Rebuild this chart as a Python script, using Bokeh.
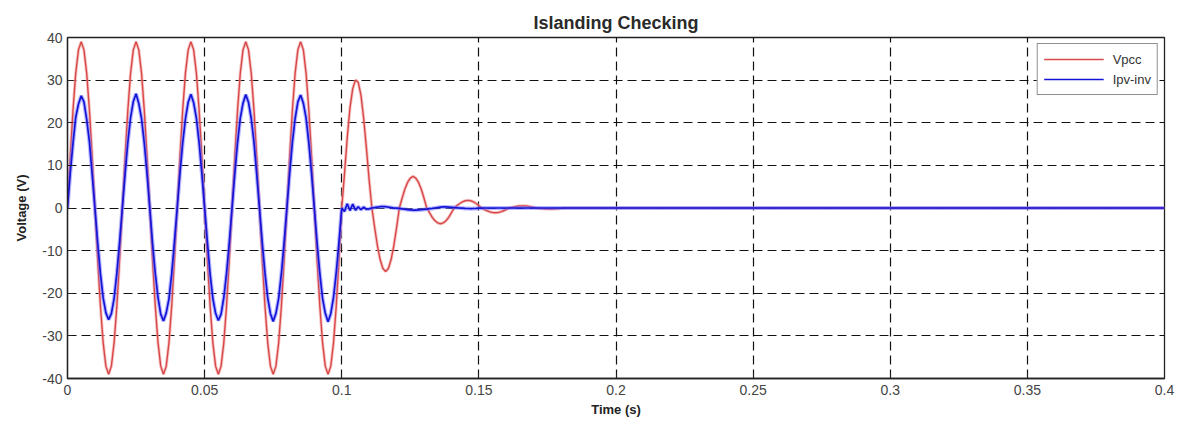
from bokeh.plotting import figure
from bokeh.models import FixedTicker, Legend, LegendItem, Range1d
from bokeh.embed import file_html
from bokeh.resources import INLINE

# ---------------- data ----------------
# time axis in milliseconds: 1 ms samples up to 181 ms, then flat to 400 ms
t_ms = list(range(0, 182)) + [400]

vpcc = [
    # 0-19 ms
    0, 12.1, 22.9, 31.6, 37.1, 39, 37.1, 31.6, 22.9, 12.1,
    0, -12.1, -22.9, -31.6, -37.1, -39, -37.1, -31.6, -22.9, -12.1,
    # 20-39 ms
    0, 12.1, 22.9, 31.6, 37.1, 39, 37.1, 31.6, 22.9, 12.1,
    0, -12.1, -22.9, -31.6, -37.1, -39, -37.1, -31.6, -22.9, -12.1,
    # 40-59 ms
    0, 12.1, 22.9, 31.6, 37.1, 39, 37.1, 31.6, 22.9, 12.1,
    0, -12.1, -22.9, -31.6, -37.1, -39, -37.1, -31.6, -22.9, -12.1,
    # 60-79 ms
    0, 12.1, 22.9, 31.6, 37.1, 39, 37.1, 31.6, 22.9, 12.1,
    0, -12.1, -22.9, -31.6, -37.1, -39, -37.1, -31.6, -22.9, -12.1,
    # 80-99 ms
    0, 12.1, 22.9, 31.6, 37.1, 39, 37.1, 31.6, 22.9, 12.1,
    0, -12.1, -22.9, -31.6, -37.1, -39, -37.1, -31.6, -22.9, -12.1,
    # 100-110 ms (islanding, decaying)
    0, 8, 16.5, 23.5, 28, 30, 29.5, 26.5, 21, 14, 6.5,
    # 111-120
    0, -4.6, -8.8, -12.1, -14.2, -14.9, -14.2, -12.1, -8.8, -4.6,
    # 121-130
    0, 2.3, 4.4, 6, 7, 7.4, 7, 6, 4.4, 2.3,
    # 131-140
    0, -1.1, -2.2, -3, -3.5, -3.7, -3.5, -3, -2.2, -1.1,
    # 141-150
    0, 0.55, 1.05, 1.45, 1.7, 1.8, 1.7, 1.45, 1.05, 0.55,
    # 151-160
    0, -0.35, -0.65, -0.9, -1.05, -1.1, -1.05, -0.9, -0.65, -0.35,
    # 161-170
    0, 0.15, 0.3, 0.4, 0.48, 0.5, 0.48, 0.4, 0.3, 0.15,
    # 171-181
    0, -0.08, -0.15, -0.2, -0.24, -0.25, -0.24, -0.2, -0.15, -0.08, 0,
    # 400
    0,
]

ipv_inv = [
    # 0-19 ms
    0, 8.2, 15.1, 21.3, 24.4, 26.3, 24.9, 20.8, 15.5, 7.8,
    0, -8.1, -15.4, -21.1, -24.6, -26.2, -24.8, -21.2, -15.2, -8.0,
    # 20-39 ms
    0, 8.0, 15.4, 21.2, 25.0, 26.8, 24.5, 21.0, 15.2, 8.1,
    0, -8.2, -15.3, -21.0, -24.9, -26.5, -24.6, -21.3, -15.4, -7.9,
    # 40-59 ms
    0, 8.1, 15.2, 20.9, 24.8, 26.7, 24.7, 21.1, 15.3, 8.0,
    0, -7.9, -15.5, -21.2, -24.7, -26.4, -24.9, -21.0, -15.3, -8.1,
    # 60-79 ms
    0, 8.0, 15.3, 21.1, 24.6, 26.6, 24.8, 21.0, 15.4, 7.9,
    0, -8.0, -15.2, -21.1, -24.8, -26.6, -24.7, -21.2, -15.3, -8.0,
    # 80-99 ms
    0, 8.1, 15.4, 21.0, 24.9, 26.5, 24.6, 21.1, 15.2, 8.0,
    0, -8.1, -15.3, -21.2, -24.7, -26.7, -24.8, -21.0, -15.1, -8.0,
    # 100-110 ms
    0, -0.8, 1.0, -0.6, 0.9, -0.5, 0.3, -0.4, 0.2, -0.3, -0.2,
    # 111-120
    0.0, 0.1, 0.2, 0.3, 0.35, 0.3, 0.2, 0.1, 0.0, -0.05,
    # 121-130
    -0.1, -0.2, -0.3, -0.4, -0.45, -0.5, -0.5, -0.45, -0.4, -0.35,
    # 131-140
    -0.25, -0.15, -0.1, 0.0, 0.1, 0.2, 0.25, 0.25, 0.2, 0.15,
    # 141-150
    0.1, 0.05, 0.0, -0.05, -0.1, -0.12, -0.15, -0.12, -0.1, -0.05,
    # 151-160
    -0.03, 0, 0, 0, 0, 0, 0, 0, 0, 0,
    # 161-170
    0, 0, 0, 0, 0, 0, 0, 0, 0, 0,
    # 171-181
    0, 0, 0, 0, 0, 0, 0, 0, 0, 0, 0,
    # 400
    0,
]

x_ticks = [0, 0.05, 0.1, 0.15, 0.2, 0.25, 0.3, 0.35, 0.4]
x_tick_labels = ["0", "0.05", "0.1", "0.15", "0.2", "0.25", "0.3", "0.35", "0.4"]
y_ticks = [-40, -30, -20, -10, 0, 10, 20, 30, 40]
y_tick_labels = ["-40", "-30", "-20", "-10", "0", "10", "20", "30", "40"]

series_names = ["Vpcc", "Ipv-inv"]
title_text = "Islanding Checking"
x_label = "Time (s)"
y_label = "Voltage (V)"

# ---------------- figure ----------------
t = [k / 1000 for k in t_ms]

FONT = "Liberation Sans"

p = figure(width=1184, height=425, output_backend="svg", toolbar_location=None,
           x_range=Range1d(0, 0.4), y_range=Range1d(-40, 40),
           min_border_left=67, min_border_right=20, min_border_top=37,
           min_border_bottom=47)

p.title.text = title_text
p.title.align = "center"
p.title.text_font = FONT
p.title.text_font_size = "18px"
p.title.text_font_style = "bold"
p.title.text_color = "#2a2a2a"
p.title.offset = 0
p.title.standoff = 10

p.background_fill_color = "white"
p.border_fill_color = "white"
p.outline_line_color = "#222222"
p.outline_line_width = 1.3
p.outline_line_alpha = 1

# grid
p.xgrid.ticker = FixedTicker(ticks=x_ticks)
p.ygrid.ticker = FixedTicker(ticks=y_ticks)
for g in (p.xgrid, p.ygrid):
    g.grid_line_color = "#111111"
    g.grid_line_dash = "9 5"
    g.grid_line_width = 1.2
    g.grid_line_alpha = 1

# axes
p.xaxis.ticker = FixedTicker(ticks=x_ticks)
p.xaxis.major_label_overrides = {tv: lab for tv, lab in zip(x_ticks, x_tick_labels)}
p.yaxis.ticker = FixedTicker(ticks=y_ticks)
p.yaxis.major_label_overrides = {tv: lab for tv, lab in zip(y_ticks, y_tick_labels)}
for ax in (p.xaxis, p.yaxis):
    ax.axis_line_color = "#222222"
    ax.axis_line_width = 1.3
    ax.major_tick_in = 5
    ax.major_tick_out = 0
    ax.minor_tick_line_color = None
    ax.major_tick_line_color = "#222222"
    ax.major_label_text_font = FONT
    ax.major_label_text_font_size = "14px"
    ax.major_label_text_color = "#444444"
    ax.axis_label_text_font = FONT
    ax.axis_label_text_font_size = "13px"
    ax.axis_label_text_font_style = "bold"
    ax.axis_label_text_color = "#222222"
p.xaxis.axis_label = x_label
p.yaxis.axis_label = y_label
p.xaxis.major_label_standoff = 6
p.xaxis.axis_label_standoff = 4
p.yaxis.major_label_standoff = 5
p.yaxis.axis_label_standoff = 10

# lines
p.line(t, vpcc, line_color="#f0a0a0", line_width=3.2, line_alpha=0.6)
r_v = p.line(t, vpcc, line_color="#d84848", line_width=1.4)
p.line(t, ipv_inv, line_color="#7a7aff", line_width=4.0, line_alpha=0.55)
r_i = p.line(t, ipv_inv, line_color="#1414d8", line_width=1.7)

legend = Legend(items=[LegendItem(label=series_names[0], renderers=[r_v]),
                       LegendItem(label=series_names[1], renderers=[r_i])],
                location="top_right")
legend.label_text_font = FONT
legend.label_text_font_size = "13px"
legend.label_text_color = "#333333"
legend.glyph_width = 60
legend.glyph_height = 18
legend.label_height = 18
legend.label_standoff = 9
legend.spacing = 2
legend.padding = 6
legend.margin = 6
legend.border_line_color = "#222222"
legend.border_line_width = 1
legend.background_fill_color = "white"
legend.background_fill_alpha = 1
p.add_layout(legend)

open("out.html", "w").write(file_html(p, INLINE))
